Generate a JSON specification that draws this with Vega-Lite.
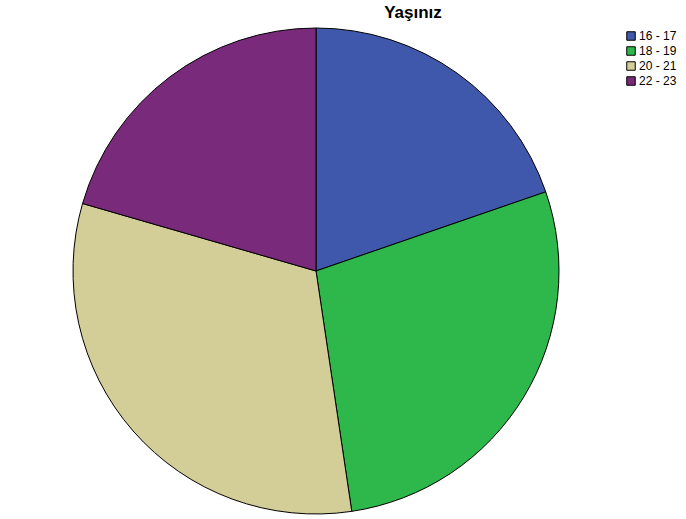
{
  "$schema": "https://vega.github.io/schema/vega-lite/v6.json",
  "autosize": "none",
  "width": 632,
  "height": 486,
  "padding": {"top": 28, "left": 0, "right": 54, "bottom": 5},
  "background": "white",
  "title": {
    "text": "Yaşınız",
    "font": "Liberation Sans",
    "fontSize": 17,
    "fontWeight": "bold",
    "color": "black",
    "anchor": "middle",
    "dx": 97,
    "offset": 4
  },
  "data": {
    "values": [
      {"yas": "16 - 17", "yuzde": 19.7, "sira": 1},
      {"yas": "18 - 19", "yuzde": 27.9, "sira": 2},
      {"yas": "20 - 21", "yuzde": 31.8, "sira": 3},
      {"yas": "22 - 23", "yuzde": 20.5, "sira": 4}
    ]
  },
  "mark": {"type": "arc", "stroke": "black", "strokeWidth": 1, "outerRadius": 243},
  "encoding": {
    "theta": {"field": "yuzde", "type": "quantitative", "stack": true},
    "order": {"field": "sira", "type": "quantitative"},
    "color": {
      "field": "yas",
      "type": "nominal",
      "sort": ["16 - 17", "18 - 19", "20 - 21", "22 - 23"],
      "scale": {
        "domain": ["16 - 17", "18 - 19", "20 - 21", "22 - 23"],
        "range": ["#3F58AB", "#2EB84B", "#D3CE97", "#7A2A7B"]
      },
      "legend": {
        "title": null,
        "orient": "none",
        "legendX": 625,
        "legendY": 2,
        "symbolType": "square",
        "symbolSize": 72,
        "symbolStrokeColor": "black",
        "symbolStrokeWidth": 1,
        "symbolOpacity": 1,
        "labelFont": "Liberation Sans",
        "labelFontSize": 12,
        "labelColor": "black",
        "labelOffset": 2,
        "rowPadding": 1
      }
    }
  }
}
